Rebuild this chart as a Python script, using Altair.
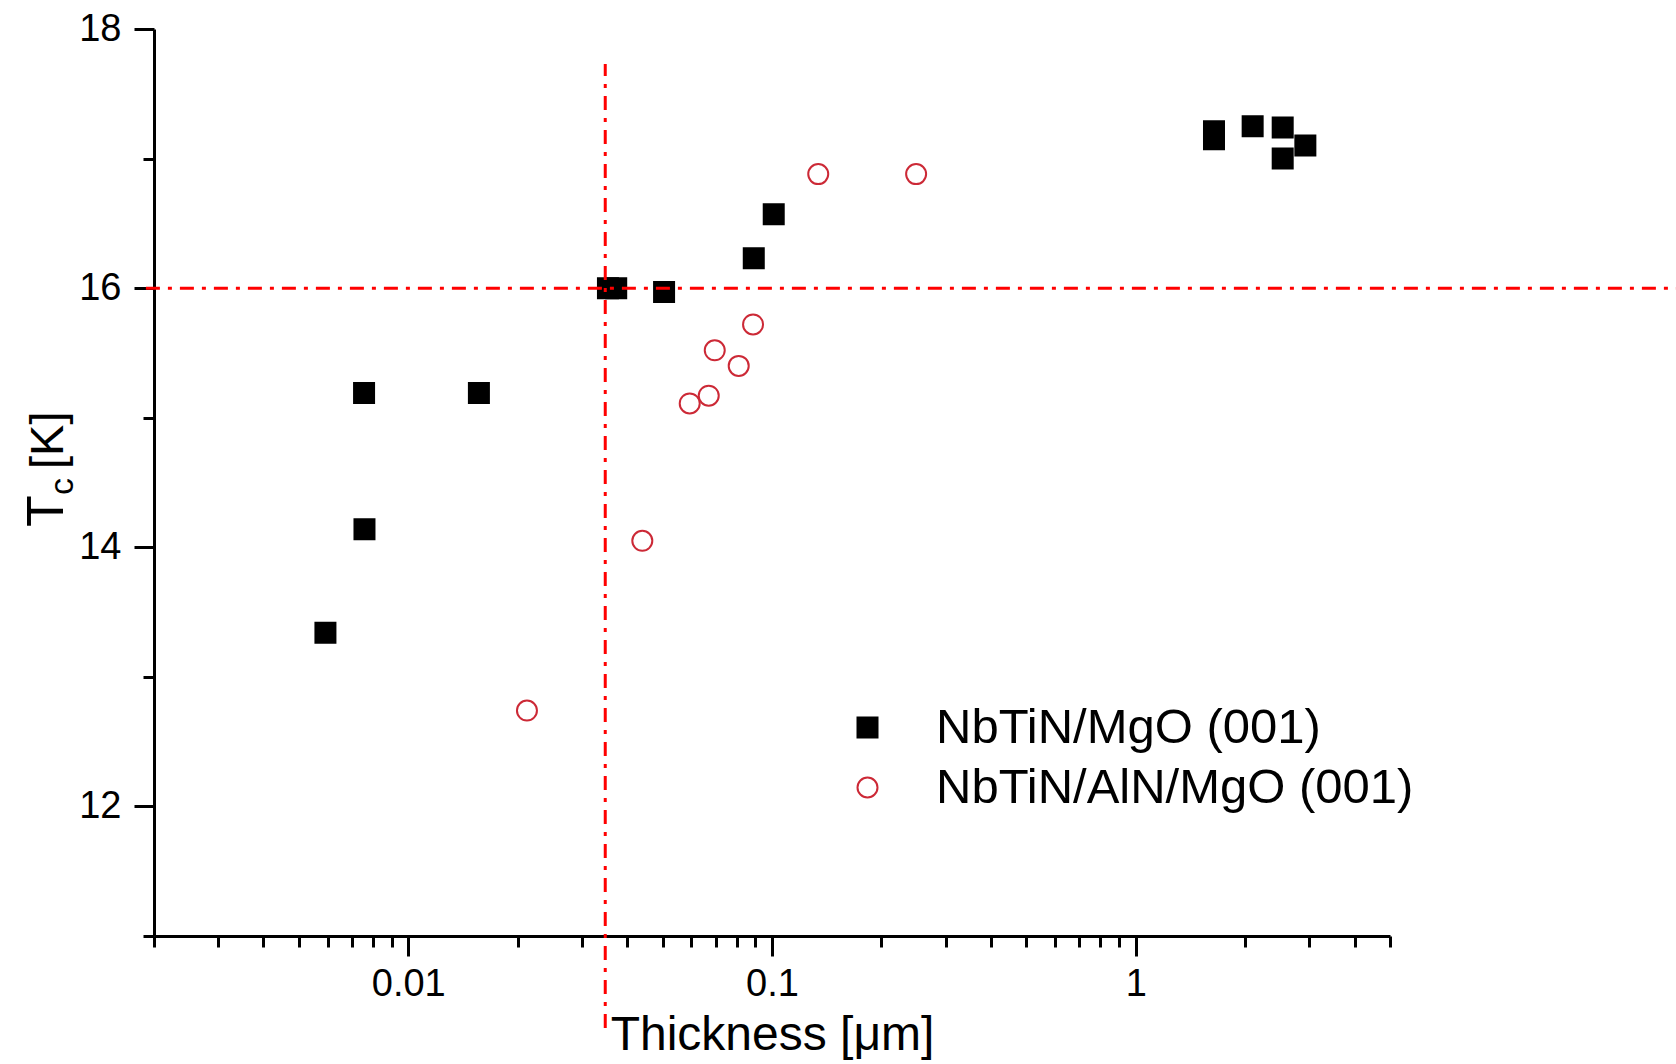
import altair as alt
import pandas as pd

FONT = "Liberation Sans, Arial, sans-serif"

series_names = ["NbTiN/MgO (001)", "NbTiN/AlN/MgO (001)"]

nbtin_mgo_thickness = [0.00592, 0.00756, 0.00758, 0.01564, 0.0354, 0.0373, 0.0505,
                       0.0891, 0.1011, 1.641, 1.641, 2.096, 2.535, 2.535, 2.926]
nbtin_mgo_tc = [13.34, 15.19, 14.14, 15.19, 16.00, 16.00, 15.97,
                16.23, 16.57, 17.21, 17.15, 17.25, 17.24, 17.00, 17.10]

nbtin_aln_thickness = [0.0212, 0.0440, 0.0594, 0.0670, 0.0696, 0.0810, 0.0887, 0.134, 0.249]
nbtin_aln_tc = [12.74, 14.05, 15.11, 15.17, 15.52, 15.40, 15.72, 16.88, 16.88]

x_major_ticks = [0.01, 0.1, 1]
x_minor_ticks = [0.002, 0.003, 0.004, 0.005, 0.006, 0.007, 0.008, 0.009,
                 0.02, 0.03, 0.04, 0.05, 0.06, 0.07, 0.08, 0.09,
                 0.2, 0.3, 0.4, 0.5, 0.6, 0.7, 0.8, 0.9,
                 2, 3, 4, 5]
y_major_ticks = [12, 14, 16, 18]
y_minor_ticks = [11, 13, 15, 17]

x_domain = [0.002, 5]
y_domain = [11, 18]

threshold_tc = 16.0
threshold_tc_x_span = [0.0019, 32]
threshold_thickness = 0.0348
threshold_thickness_y_span = [10.29, 17.73]

y_title_parts = ["T", "c", "[K]"]

df = pd.DataFrame({
    "thickness": nbtin_mgo_thickness + nbtin_aln_thickness,
    "tc": nbtin_mgo_tc + nbtin_aln_tc,
    "series": [series_names[0]] * len(nbtin_mgo_thickness) + [series_names[1]] * len(nbtin_aln_thickness),
})

hline_df = pd.DataFrame({"x1": [threshold_tc_x_span[0]], "x2": [threshold_tc_x_span[1]], "y": [threshold_tc]})
vline_df = pd.DataFrame({"x": [threshold_thickness], "y1": [threshold_thickness_y_span[0]], "y2": [threshold_thickness_y_span[1]]})

x_scale = alt.Scale(type="log", domain=x_domain, nice=False)
y_scale = alt.Scale(domain=y_domain, nice=False, zero=False)

leg = alt.Legend(title=None, orient="none", legendX=689, legendY=674,
                 labelFontSize=49, labelFont=FONT, labelColor="black",
                 symbolSize=400, symbolStrokeWidth=2, labelOffset=44,
                 rowPadding=10, padding=0, labelLimit=0)

color_scale = alt.Scale(domain=series_names, range=["black", "#cc2936"])
fill_scale = alt.Scale(domain=series_names, range=["black", "transparent"])
shape_scale = alt.Scale(domain=series_names, range=["square", "circle"])

points = alt.Chart(df).mark_point(size=400, strokeWidth=2, opacity=1).encode(
    x=alt.X("thickness:Q", scale=x_scale,
            axis=alt.Axis(values=x_major_ticks, tickSize=20, labelFontSize=38, labelPadding=9,
                          format="~g", title="Thickness [μm]", titleFontSize=48,
                          titleFontWeight="normal", titlePadding=8, orient="bottom")),
    y=alt.Y("tc:Q", scale=y_scale,
            axis=alt.Axis(values=y_major_ticks, tickSize=20, labelFontSize=38, labelPadding=13,
                          title=None, orient="left")),
    color=alt.Color("series:N", scale=color_scale, legend=leg),
    fill=alt.Fill("series:N", scale=fill_scale, legend=leg),
    shape=alt.Shape("series:N", scale=shape_scale, legend=leg),
)

minor = alt.Chart(df).mark_point(opacity=0).encode(
    x=alt.X("thickness:Q", scale=x_scale,
            axis=alt.Axis(values=x_minor_ticks, tickSize=11, labels=False, domain=False,
                          title=None, orient="bottom")),
    y=alt.Y("tc:Q", scale=y_scale,
            axis=alt.Axis(values=y_minor_ticks, tickSize=11, labels=False, domain=False,
                          title=None, orient="left")),
)

dash = [14, 8, 4, 8]
hline = alt.Chart(hline_df).mark_rule(color="#ff0000", strokeWidth=3, strokeDash=dash, clip=False).encode(
    x=alt.X("x1:Q", scale=x_scale, axis=None),
    x2="x2:Q",
    y=alt.Y("y:Q", scale=y_scale, axis=None),
)
vline = alt.Chart(vline_df).mark_rule(color="#ff0000", strokeWidth=3, strokeDash=dash, clip=False).encode(
    x=alt.X("x:Q", scale=x_scale, axis=None),
    y=alt.Y("y1:Q", scale=y_scale, axis=None),
    y2="y2:Q",
)

t_main = alt.Chart(pd.DataFrame({"t": [y_title_parts[0]]})).mark_text(
    angle=270, align="left", baseline="alphabetic", fontSize=52, font=FONT, color="black"
).encode(x=alt.value(-91), y=alt.value(498), text="t:N")
t_sub = alt.Chart(pd.DataFrame({"t": [y_title_parts[1]]})).mark_text(
    angle=270, align="left", baseline="alphabetic", fontSize=34, font=FONT, color="black"
).encode(x=alt.value(-81), y=alt.value(466), text="t:N")
t_unit = alt.Chart(pd.DataFrame({"t": [y_title_parts[2]]})).mark_text(
    angle=270, align="left", baseline="alphabetic", fontSize=47, font=FONT, color="black"
).encode(x=alt.value(-91), y=alt.value(440), text="t:N")

chart = alt.layer(points, minor, hline, vline, t_main, t_sub, t_unit).resolve_axis(
    x="independent", y="independent"
).properties(
    width=1236, height=907,
    padding={"left": 154, "top": 29, "right": 286, "bottom": 128},
    autosize=alt.AutoSizeParams(type="none"),
).configure_view(stroke=None).configure_axis(
    domainColor="black", tickColor="black", domainWidth=3, tickWidth=3,
    labelColor="black", titleColor="black", grid=False,
    labelFont=FONT, titleFont=FONT,
)

chart.save("out.html", embed_options={"renderer": "svg", "actions": False})
